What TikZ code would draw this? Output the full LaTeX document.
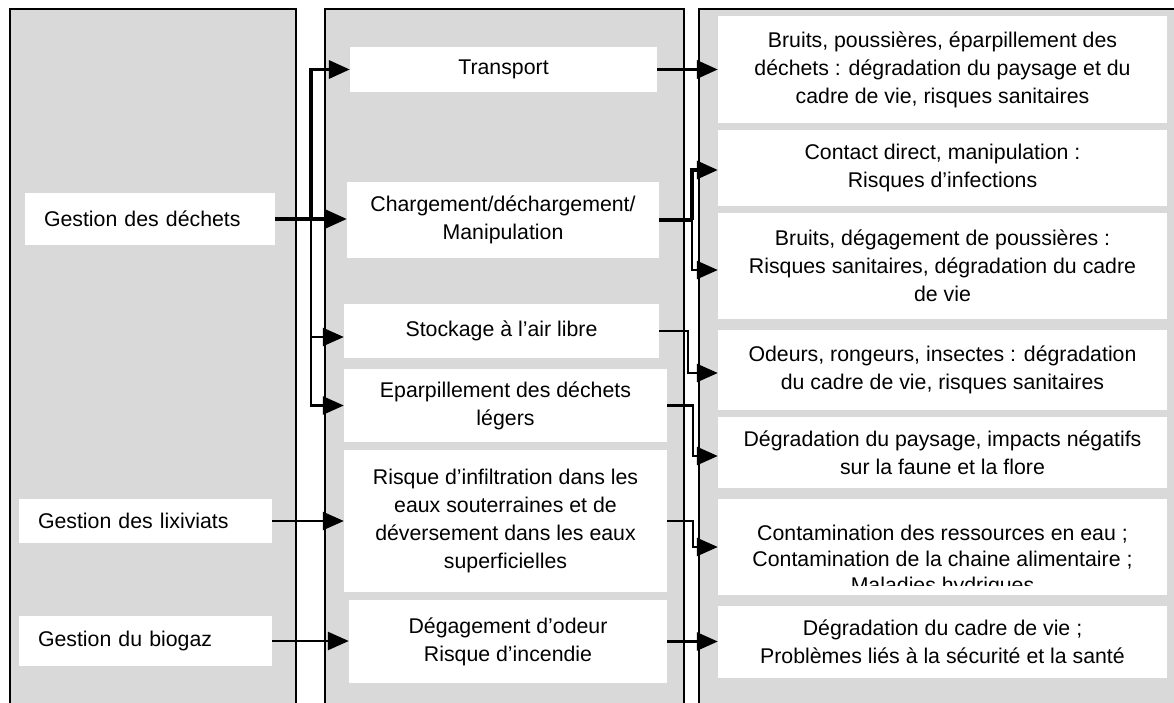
\documentclass[tikz,border=0pt]{standalone}
\usepackage{fontspec}
\setmainfont{Liberation Sans}
\usetikzlibrary{arrows.meta,calc}
\definecolor{panelgray}{HTML}{D9D9D9}
\begin{document}
\begin{tikzpicture}[x=1pt,y=-1pt,
  panel/.style={fill=panelgray,draw=black,line width=2.7pt},
  wbox/.style={fill=white,draw=none,inner sep=0pt,align=center,
    font=\fontsize{21.3}{28}\selectfont},
  lbox/.style={fill=white,draw=none,inner xsep=19pt,inner ysep=0pt,align=left,
    font=\fontsize{21.3}{28}\selectfont},
  conn/.style={-{Triangle[length=21pt,width=18pt]}},
  thk/.style={line width=3.4pt},
  thn/.style={line width=2.6pt}]
\clip (0,0) rectangle (1174,703);
\fill[white] (0,0) rectangle (1174,703);
% panels
\draw[panel] (10,9) rectangle (296,720);
\draw[panel] (325,9) rectangle (684,720);
\draw[panel] (699,9) rectangle (1190,720);
% left column
\node[lbox,text width=212pt,minimum height=52pt] (gd) at (150,219) {Gestion des déchets};
\node[lbox,text width=215pt,minimum height=44pt] (gl) at (145.5,521) {Gestion des lixiviats};
\node[lbox,text width=215pt,minimum height=50pt] (gb) at (145.5,641) {Gestion du biogaz};
% middle column
\node[wbox,minimum width=307pt,minimum height=45pt] (tr) at (503.5,69.5) {Transport};
\node[wbox,minimum width=312pt,minimum height=76pt] (ch) at (503,220) {Chargement/déchargement/\\Manipulation};
\node[wbox,minimum width=315pt,minimum height=54pt] (st) at (501.5,331) {Stockage à l’air libre};
\node[wbox,minimum width=323pt,minimum height=73pt] (ep) at (505.5,405.5) {Eparpillement des déchets\\légers};
\node[wbox,minimum width=323pt,minimum height=142pt] (ri) at (505.5,521) {Risque d’infiltration dans les\\eaux souterraines et de\\déversement dans les eaux\\superficielles};
\node[wbox,minimum width=318pt,minimum height=83pt] (dg) at (508,641.5) {Dégagement d’odeur\\Risque d’incendie};
% right column
\node[wbox,minimum width=449pt,minimum height=107pt] (r1) at (942.5,69.5) {Bruits, poussières, éparpillement des\\déchets : dégradation du paysage et du\\cadre de vie, risques sanitaires};
\node[wbox,minimum width=449pt,minimum height=76pt] (r2) at (942.5,168) {Contact direct, manipulation :\\Risques d’infections};
\node[wbox,minimum width=449pt,minimum height=106pt] (r3) at (942.5,266) {Bruits, dégagement de poussières :\\Risques sanitaires, dégradation du cadre\\de vie};
\node[wbox,minimum width=449pt,minimum height=80pt] (r4) at (942.5,370) {Odeurs, rongeurs, insectes : dégradation\\du cadre de vie, risques sanitaires};
\node[wbox,minimum width=449pt,minimum height=71pt] (r5) at (942.5,452.5) {Dégradation du paysage, impacts négatifs\\sur la faune et la flore};
\node[wbox,minimum width=449pt,minimum height=96pt] (r6) at (942.5,547) {};
\begin{scope}
\clip (718,499) rectangle (1167,585);
\node[wbox,fill=none,font=\fontsize{21.3}{26}\selectfont] (r6t) at (942.5,561) {Contamination des ressources en eau ;\\Contamination de la chaine alimentaire ;\\Maladies hydriques};
\end{scope}
\node[wbox,minimum width=449pt,minimum height=72pt] (r7) at (942.5,642) {Dégradation du cadre de vie ;\\Problèmes liés à la sécurité et la santé};
% connectors left -> middle
\coordinate (bus) at (311,0);
\draw[conn,thk] (gd.east) -- (gd.east -| ch.west);
\draw[conn,thk] (bus |- gd.east) |- (tr.west);
\draw[conn,thn] (bus |- gd.east) |- ($(st.west)+(0,6)$);
\draw[conn,thn] (bus |- gd.east) |- (ep.west);
\draw[conn,thn] (gl.east) -- (gl.east -| ri.west);
\draw[conn,thn] (gb.east) -- (gb.east -| dg.west);
% connectors middle -> right
\coordinate (cr) at (692,0);
\draw[conn,thk] (tr.east) -- (tr.east -| r1.west);
\draw[thk] (ch.east) -- (cr |- ch.east);
\draw[conn,thk] (cr |- ch.east) |- ($(r2.west)+(0,2)$);
\draw[conn,thn] (cr |- ch.east) |- ($(r3.west)+(0,4)$);
\draw[conn,thn] (st.east) -- (688,331) |- ($(r4.west)+(0,3)$);
\draw[conn,thn] (ep.east) -- (693,405.5) |- ($(r5.west)+(0,3.5)$);
\draw[conn,thn] (ri.east) -- (693,521) |- (r6.west);
\draw[conn,thn] (dg.east) -- (dg.east -| r7.west);
\end{tikzpicture}
\end{document}
